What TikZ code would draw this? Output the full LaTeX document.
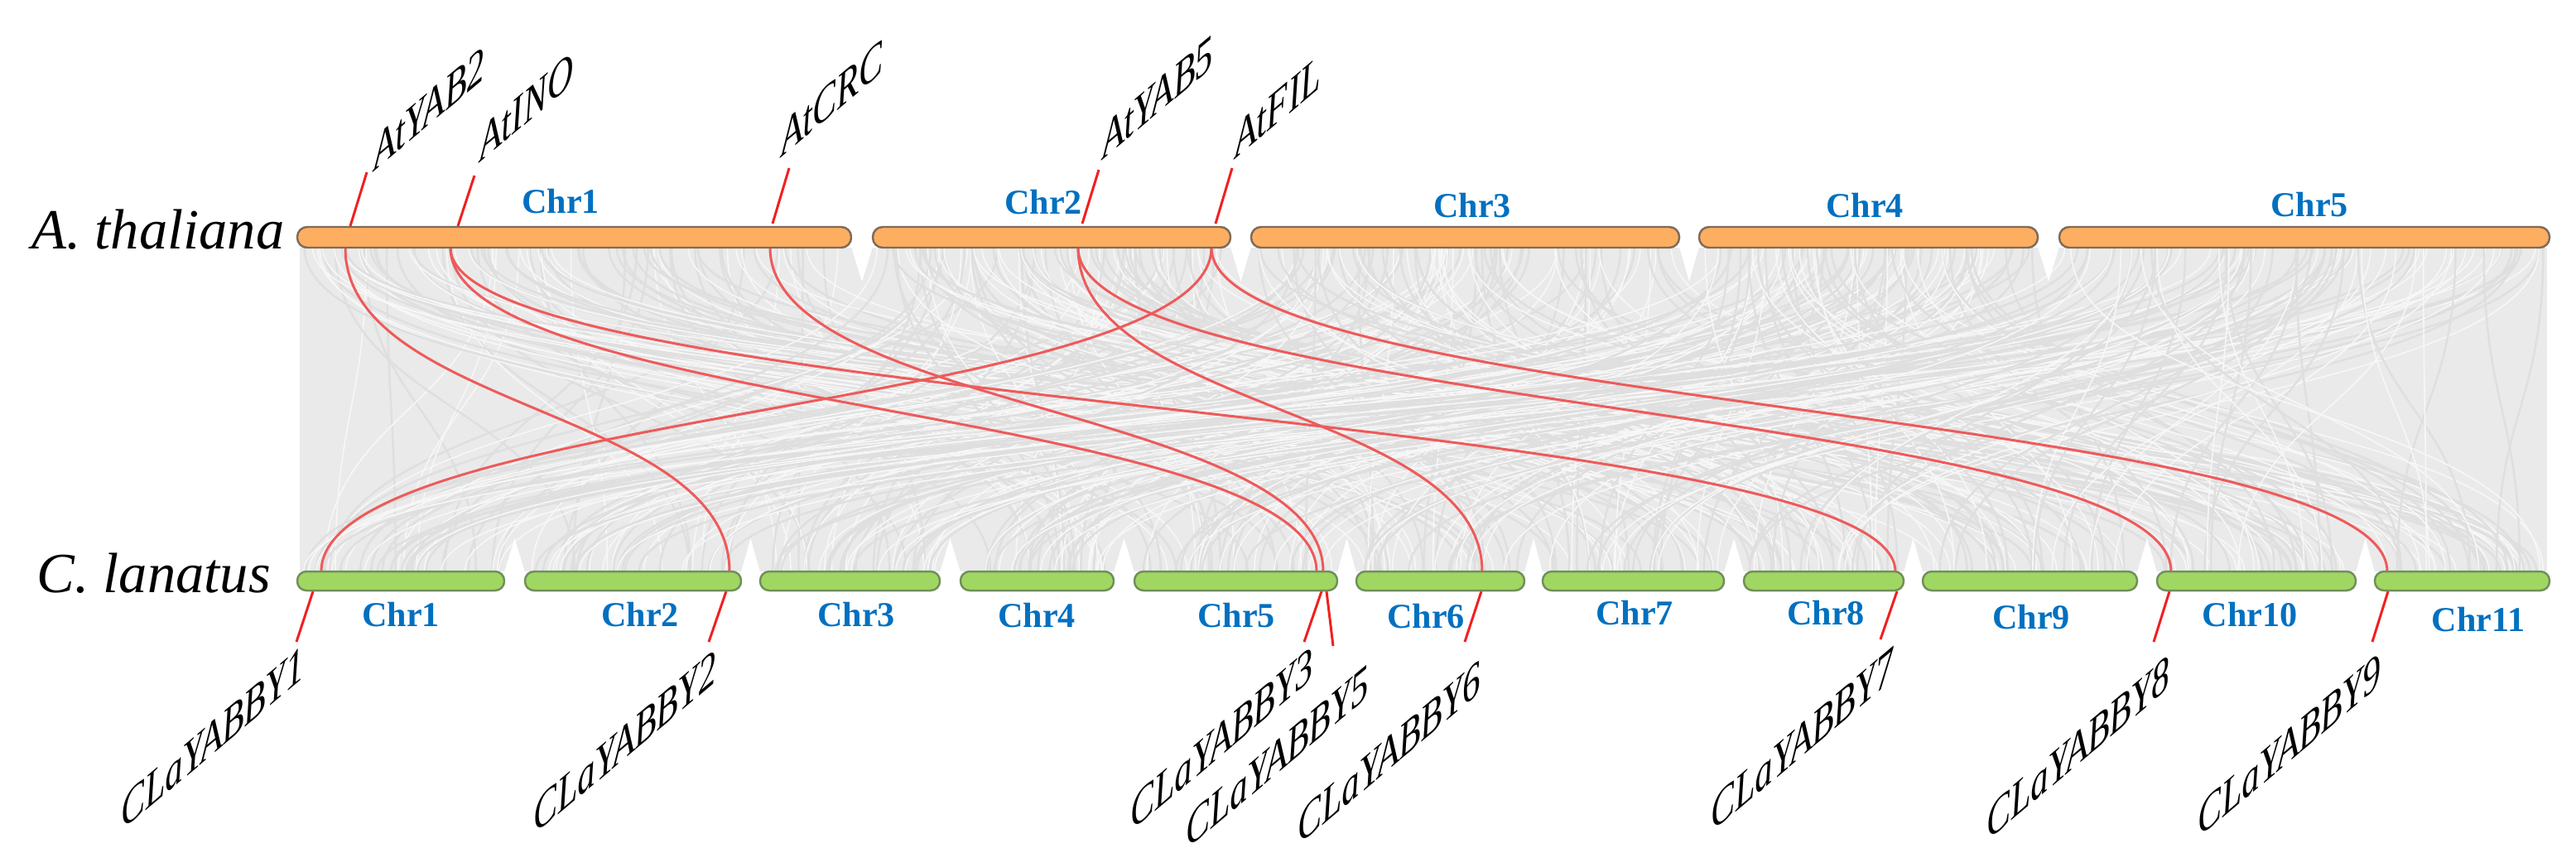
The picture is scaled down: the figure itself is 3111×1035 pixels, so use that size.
\documentclass[tikz,border=0pt]{standalone}
\usepackage{fontspec}
\setmainfont{Liberation Serif}
\definecolor{orangeF}{HTML}{FDAE61}
\definecolor{orangeE}{HTML}{7F6B58}
\definecolor{greenF}{HTML}{A0D762}
\definecolor{greenE}{HTML}{718F5A}
\definecolor{chrblue}{HTML}{0070C0}
\definecolor{linkred}{HTML}{EE5A5A}
\definecolor{tickred}{HTML}{F02020}
\definecolor{synbase}{HTML}{EAEAEA}
\definecolor{syndark}{HTML}{DFDFDF}
\definecolor{synlight}{HTML}{F7F7F7}
\begin{document}
\begin{tikzpicture}[x=0.01cm,y=-0.01cm,
  topbar/.style={fill=orangeF,draw=orangeE,line width=0.7pt,rounded corners=1.2mm},
  botbar/.style={fill=greenF,draw=greenE,line width=0.7pt,rounded corners=1.1mm},
  chrlab/.style={font=\fontsize{12}{14}\selectfont\bfseries,text=chrblue,inner sep=0pt,anchor=center},
  species/.style={font=\fontsize{19.5}{23}\selectfont\itshape,inner sep=0pt,anchor=base west},
  glab/.style={font=\fontsize{19.5}{23}\selectfont\itshape,inner sep=0pt,cm={0.63,0.53,-0.05,0.85,(0,0)}},
  syndk/.style={draw=syndark,line width=0.7pt},
  synlt/.style={draw=synlight,line width=0.45pt},
  link/.style={draw=linkred,line width=0.85pt},
  tickl/.style={draw=tickred,line width=0.85pt}]
\useasboundingbox (0,0) rectangle (3111,1035);
% ---- gray synteny background
\fill[synbase] (362,299) rectangle (3076,690);
\pgfmathsetseed{7}
\foreach \ta/\tb in {365/1022,1059/1480,1517/2022,2057/2455,2493/3073}{
  \foreach \ba/\bb in {365/604,640/889,924/1129,1166/1339,1376/1609,1645/1834,1869/2075,2112/2293,2328/2575,2611/2839,2874/3073}{
    \foreach \k in {1,...,5}{
      \pgfmathsetmacro\xt{\ta+rnd*(\tb-\ta)}
      \pgfmathsetmacro\xb{\ba+rnd*(\bb-\ba)}
      \draw[syndk] (\xt,299) .. controls (\xt,494) and (\xb,494) .. (\xb,690);
    }
    \foreach \k in {1,...,4}{
      \pgfmathsetmacro\xt{\ta+rnd*(\tb-\ta)}
      \pgfmathsetmacro\xb{\ba+rnd*(\bb-\ba)}
      \draw[synlt] (\xt,299) .. controls (\xt,494) and (\xb,494) .. (\xb,690);
    }
  }
}
% white notches below/above the gaps between chromosomes
\foreach \l/\r in {1028/1054,1486/1511,2028/2052,2461/2487}{
  \fill[white] (\l,298) -- (\r,298) -- ({(\l+\r)/2},340) -- cycle;
}
\foreach \l/\r in {609/634,895/918,1135/1160,1345/1370,1615/1638,1841/1863,2082/2106,2299/2322,2581/2605,2845/2868}{
  \fill[white] (\l,691) -- (\r,691) -- ({(\l+\r)/2},650) -- cycle;
}
% ---- gene coordinates
\coordinate (mid) at (0,494.5);
\coordinate (tYAB2) at (417,299);
\coordinate (tINO)  at (544,299);
\coordinate (tCRC)  at (930,299);
\coordinate (tYAB5) at (1302,299);
\coordinate (tFIL)  at (1463,299);
\coordinate (bY1) at (388,690);
\coordinate (bY2) at (881,690);
\coordinate (bY3) at (1590,690);
\coordinate (bY5) at (1598,690);
\coordinate (bY6) at (1790,690);
\coordinate (bY7) at (2289,690);
\coordinate (bY8) at (2622,690);
\coordinate (bY9) at (2883,690);
% ---- red links
\draw[link] (tYAB2) .. controls (tYAB2 |- mid) and (bY2 |- mid) .. (bY2);
\draw[link] (tINO) .. controls (tINO |- mid) and (bY3 |- mid) .. (bY3);
\draw[link] (tINO) .. controls (tINO |- mid) and (bY7 |- mid) .. (bY7);
\draw[link] (tCRC) .. controls (tCRC |- mid) and (bY5 |- mid) .. (bY5);
\draw[link] (tYAB5) .. controls (tYAB5 |- mid) and (bY6 |- mid) .. (bY6);
\draw[link] (tYAB5) .. controls (tYAB5 |- mid) and (bY8 |- mid) .. (bY8);
\draw[link] (tFIL) .. controls (tFIL |- mid) and (bY1 |- mid) .. (bY1);
\draw[link] (tFIL) .. controls (tFIL |- mid) and (bY9 |- mid) .. (bY9);
% ---- tick coordinates
\coordinate (kYAB2) at (423,273); \coordinate (eYAB2) at (443,208);
\coordinate (kINO)  at (553,273); \coordinate (eINO)  at (573,212);
\coordinate (kCRC)  at (933,270); \coordinate (eCRC)  at (953,203);
\coordinate (kYAB5) at (1307,270); \coordinate (eYAB5) at (1327,205);
\coordinate (kFIL)  at (1468,270); \coordinate (eFIL)  at (1488,203);
\coordinate (kY1) at (378,714); \coordinate (eY1) at (358,775);
\coordinate (kY2) at (877,714); \coordinate (eY2) at (856,775);
\coordinate (kY3) at (1596,714); \coordinate (eY3) at (1575,775);
\coordinate (kY5) at (1602,714); \coordinate (eY5) at (1610,780);
\coordinate (kY6) at (1789,714); \coordinate (eY6) at (1769,775);
\coordinate (kY7) at (2291,714); \coordinate (eY7) at (2271,772);
\coordinate (kY8) at (2620,714); \coordinate (eY8) at (2601,775);
\coordinate (kY9) at (2884,714); \coordinate (eY9) at (2865,775);
\foreach \g in {YAB2,INO,CRC,YAB5,FIL,Y1,Y2,Y3,Y5,Y6,Y7,Y8,Y9}{
  \draw[tickl] (k\g) -- (e\g);
}
% ---- chromosome bars
\draw[topbar] (359,274) rectangle (1028,299);
\draw[topbar] (1054,274) rectangle (1486,299);
\draw[topbar] (1511,274) rectangle (2028,299);
\draw[topbar] (2052,274) rectangle (2461,299);
\draw[topbar] (2487,274) rectangle (3079,299);
\draw[botbar] (359,690) rectangle (609,713);
\draw[botbar] (634,690) rectangle (895,713);
\draw[botbar] (918,690) rectangle (1135,713);
\draw[botbar] (1160,690) rectangle (1345,713);
\draw[botbar] (1370,690) rectangle (1615,713);
\draw[botbar] (1638,690) rectangle (1841,713);
\draw[botbar] (1863,690) rectangle (2082,713);
\draw[botbar] (2106,690) rectangle (2299,713);
\draw[botbar] (2322,690) rectangle (2581,713);
\draw[botbar] (2605,690) rectangle (2845,713);
\draw[botbar] (2868,690) rectangle (3079,713);
% ---- chromosome labels
\node[chrlab] (tc1) at (677,243) {Chr1};
\node[chrlab] (tc2) at (1260,244) {Chr2};
\node[chrlab] (tc3) at (1778,248) {Chr3};
\node[chrlab] (tc4) at (2252,248) {Chr4};
\node[chrlab] (tc5) at (2789,247) {Chr5};
\node[chrlab] (bc1) at (484,742) {Chr1};
\node[chrlab] (bc2) at (773,742) {Chr2};
\node[chrlab] (bc3) at (1034,742) {Chr3};
\node[chrlab] (bc4) at (1252,743) {Chr4};
\node[chrlab] (bc5) at (1493,743) {Chr5};
\node[chrlab] (bc6) at (1722,744) {Chr6};
\node[chrlab] (bc7) at (1974,740) {Chr7};
\node[chrlab] (bc8) at (2205,740) {Chr8};
\node[chrlab] (bc9) at (2453,745) {Chr9};
\node[chrlab] (bc10) at (2717,742) {Chr10};
\node[chrlab] (bc11) at (2993,748) {Chr11};
% ---- species labels
\node[species] (sp1) at (38,300) {A. thaliana};
\node[species] (sp2) at (44,715) {C. lanatus};
% ---- gene labels
\node[glab,anchor=base west] (lYAB2) at (452,207) {AtYAB2};
\node[glab,anchor=base west] (lINO)  at (580,196) {AtINO};
\node[glab,anchor=base west] (lCRC)  at (944,190) {AtCRC};
\node[glab,anchor=base west] (lYAB5) at (1332,193) {AtYAB5};
\node[glab,anchor=base west] (lFIL)  at (1492,192) {AtFIL};
\node[glab,anchor=north east] (lY1) at (366,778) {CLaYABBY1};
\node[glab,anchor=north east] (lY2) at (864,783) {CLaYABBY2};
\node[glab,anchor=north east] (lY3) at (1585,779) {CLaYABBY3};
\node[glab,anchor=north east] (lY5) at (1652,801) {CLaYABBY5};
\node[glab,anchor=north east] (lY6) at (1787,796) {CLaYABBY6};
\node[glab,anchor=north east] (lY7) at (2286,780) {CLaYABBY7};
\node[glab,anchor=north east] (lY8) at (2619,790) {CLaYABBY8};
\node[glab,anchor=north east] (lY9) at (2874,787) {CLaYABBY9};
\end{tikzpicture}
\end{document}
